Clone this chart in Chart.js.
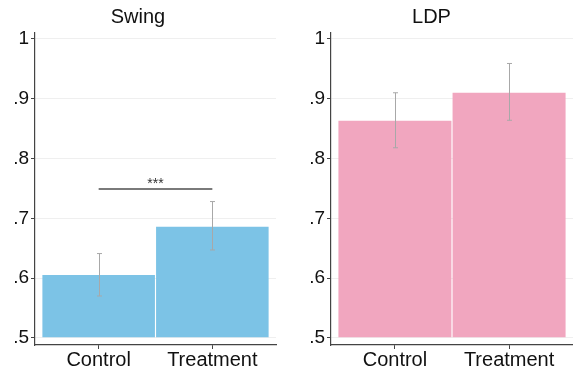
<!DOCTYPE html>
<html><head><meta charset="utf-8">
<script src="https://cdn.jsdelivr.net/npm/chart.js@4/dist/chart.umd.min.js"></script>
<style>
html,body{margin:0;padding:0;background:#fff;}
#wrap{position:relative;width:573px;height:376px;overflow:hidden;}
.panel{position:absolute;top:0;height:376px;}
</style></head><body>
<div id="wrap">
<div class="panel" style="left:0;width:290px"><canvas id="c1"></canvas></div>
<div class="panel" style="left:290px;width:283px"><canvas id="c2"></canvas></div>
</div>
<script>
const categories = ['Control', 'Treatment'];
const categoryPositions = [1, 2];
const panelTitles = ['Swing', 'LDP'];
const swingMeans = [0.605, 0.686];
const swingLower = [0.570, 0.647];
const swingUpper = [0.641, 0.728];
const ldpMeans = [0.863, 0.910];
const ldpLower = [0.818, 0.864];
const ldpUpper = [0.910, 0.959];
const yTicks = [0.5, 0.6, 0.7, 0.8, 0.9, 1];
const yTickLabels = ['.5', '.6', '.7', '.8', '.9', '1'];
const swingSignificance = { from: 0, to: 1, y: 0.749, label: '***' };

const FONT = "'Liberation Sans', Arial, sans-serif";

const overlayPlugin = {
  id: 'overlay',
  afterDatasetsDraw(chart, args, opts) {
    const ctx = chart.ctx;
    const xs = chart.scales.x, ys = chart.scales.y;
    ctx.save();
    ctx.strokeStyle = '#a8a8a8';
    ctx.lineWidth = 1;
    opts.lower.forEach((lo, i) => {
      const x = Math.round(xs.getPixelForValue(categoryPositions[i])) + 0.5;
      const y1 = ys.getPixelForValue(lo), y2 = ys.getPixelForValue(opts.upper[i]);
      ctx.beginPath();
      ctx.moveTo(x, y1); ctx.lineTo(x, y2);
      ctx.moveTo(x - 2.5, y1); ctx.lineTo(x + 2.5, y1);
      ctx.moveTo(x - 2.5, y2); ctx.lineTo(x + 2.5, y2);
      ctx.stroke();
    });
    const sig = opts.sig;
    if (sig) {
      const xa = xs.getPixelForValue(categoryPositions[sig.from]);
      const xb = xs.getPixelForValue(categoryPositions[sig.to]);
      const y = ys.getPixelForValue(sig.y);
      ctx.strokeStyle = '#7a7a7a';
      ctx.lineWidth = 2;
      ctx.beginPath(); ctx.moveTo(xa, y); ctx.lineTo(xb, y); ctx.stroke();
      ctx.fillStyle = '#333';
      ctx.font = '14px ' + FONT;
      ctx.textAlign = 'center';
      ctx.textBaseline = 'alphabetic';
      ctx.fillText(sig.label, (xa + xb) / 2, y - 1);
    }
    ctx.restore();
  }
};

function makePanel(id, title, means, lower, upper, color, sig, axisWidth, rightPad) {
  return new Chart(document.getElementById(id), {
    type: 'bar',
    data: {
      datasets: [{
        data: means.map((v, i) => ({ x: categoryPositions[i], y: v })),
        backgroundColor: color,
        borderWidth: 0,
        base: 0.5,
        barPercentage: 0.99,
        categoryPercentage: 1
      }]
    },
    options: {
      responsive: true,
      maintainAspectRatio: false,
      animation: false,
      layout: { padding: { left: 0, right: rightPad, top: 0, bottom: 0 } },
      plugins: {
        legend: { display: false },
        tooltip: { enabled: false },
        title: {
          display: true, text: title, color: '#111',
          font: { family: FONT, size: 20, weight: 'normal', lineHeight: 1.2 },
          padding: { top: 5, bottom: 4 }
        },
        overlay: { lower, upper, sig }
      },
      scales: {
        x: {
          type: 'linear', min: 0.44, max: 2.56, offset: false,
          afterBuildTicks(s) { s.ticks = categoryPositions.map(v => ({ value: v })); },
          afterFit(s) { s.height = 31; },
          grid: { offset: false, drawOnChartArea: false, drawTicks: true, tickLength: 4, tickColor: '#444', tickWidth: 1 },
          border: { color: '#444', width: 1.2 },
          ticks: {
            autoSkip: false, maxRotation: 0, padding: -1, color: '#111',
            font: { family: FONT, size: 20 },
            callback: (v) => categories[categoryPositions.indexOf(v)]
          }
        },
        y: {
          min: 0.488, max: 1.01,
          afterBuildTicks(s) { s.ticks = yTicks.map(v => ({ value: v })); },
          afterFit(s) { s.width = axisWidth; },
          grid: { color: '#efefef', lineWidth: 1, drawTicks: true, tickLength: 4, tickColor: '#444' },
          border: { color: '#444', width: 1.2 },
          ticks: {
            padding: 2, color: '#111',
            font: { family: FONT, size: 19 },
            callback: (v) => yTickLabels[yTicks.indexOf(v)]
          }
        }
      }
    },
    plugins: [overlayPlugin]
  });
}

makePanel('c1', panelTitles[0], swingMeans, swingLower, swingUpper, '#7cc3e6', swingSignificance, 35, 14);
makePanel('c2', panelTitles[1], ldpMeans, ldpLower, ldpUpper, '#f1a6bf', null, 41, 0);
</script>
</body></html>
